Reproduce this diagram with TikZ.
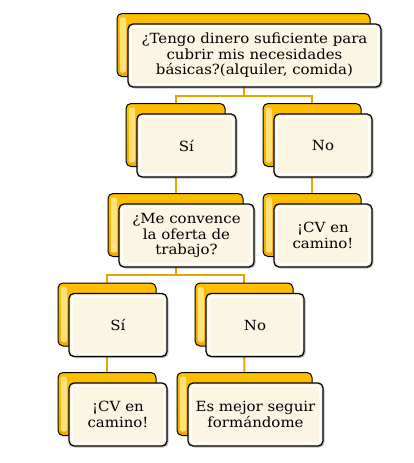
\documentclass[tikz,border=0pt]{standalone}
\usepackage{fontspec}
\setmainfont[FakeStretch=1.07]{DejaVu Serif}
\usetikzlibrary{backgrounds,shadows}
\definecolor{gold}{HTML}{FFC000}
\definecolor{golddark}{HTML}{F2A900}
\definecolor{goldlight}{HTML}{FFE27A}
\definecolor{cream}{HTML}{FBF6E3}
\definecolor{linkc}{HTML}{E2A800}
\tikzset{
  backbox/.style={draw=black, line width=1pt, rounded corners=5pt, top color=gold, bottom color=golddark, minimum height=63pt, inner sep=0pt,
    path picture={\fill[goldlight, rounded corners=2pt] ([shift={(3pt,-4pt)}]path picture bounding box.north west) rectangle ([shift={(9pt,4pt)}]path picture bounding box.south west);}},
  frontbox/.style={draw=black, line width=1.3pt, rounded corners=5pt, fill=cream, minimum height=63pt, inner sep=0pt, align=center, font=\fontsize{14}{15.5}\selectfont,
    drop shadow={shadow xshift=1.5pt, shadow yshift=-1.5pt, opacity=0.25, fill=black},
    path picture={\draw[white, line width=1.5pt, rounded corners=3pt] ([shift={(3pt,-3pt)}]path picture bounding box.north west) rectangle ([shift={(-3pt,3pt)}]path picture bounding box.south east);}},
  link/.style={draw=linkc, line width=2pt},
}
\newcommand\dbox[5]{%
  \node[backbox, minimum width=#4pt] (#1b) at (#2,#3) {};
  \node[frontbox, minimum width=#4pt] (#1) at (#2+11,#3+10.5) {#5};
}
\begin{document}
\begin{tikzpicture}[x=1pt,y=-1pt]
\useasboundingbox (0,0) rectangle (413,463);
\dbox{top}{243.5}{45}{253}{¿Tengo dinero suficiente para\\cubrir mis necesidades\\básicas?(alquiler, comida)}
\dbox{sia}{175.5}{135}{99}{Sí}
\dbox{noa}{312}{135}{98}{No}
\dbox{me}{175.5}{225}{135}{¿Me convence\\la oferta de\\trabajo?}
\dbox{cva}{312}{225}{98}{¡CV en\\camino!}
\dbox{sic}{107}{314.5}{98}{Sí}
\dbox{noc}{244}{314.5}{98}{No}
\dbox{cvc}{107}{404}{98}{¡CV en\\camino!}
\dbox{es}{244.5}{404}{135}{Es mejor seguir\\formándome}
\begin{scope}[on background layer]
  \path (topb.south) ++(0,19) coordinate (j1);
  \draw[link] (topb.south) -- (j1) -| (siab.north);
  \draw[link] (j1) -| (noab.north);
  \draw[link] (siab.south) -- (meb.north);
  \draw[link] (noab.south) -- (cvab.north);
  \path (meb.south) ++(0,18) coordinate (j2);
  \draw[link] (meb.south) -- (j2) -| (sicb.north);
  \draw[link] (j2) -| (nocb.north);
  \draw[link] (sicb.south) -- (cvcb.north);
  \draw[link] (nocb.south) -- (esb.north);
\end{scope}
\end{tikzpicture}
\end{document}
